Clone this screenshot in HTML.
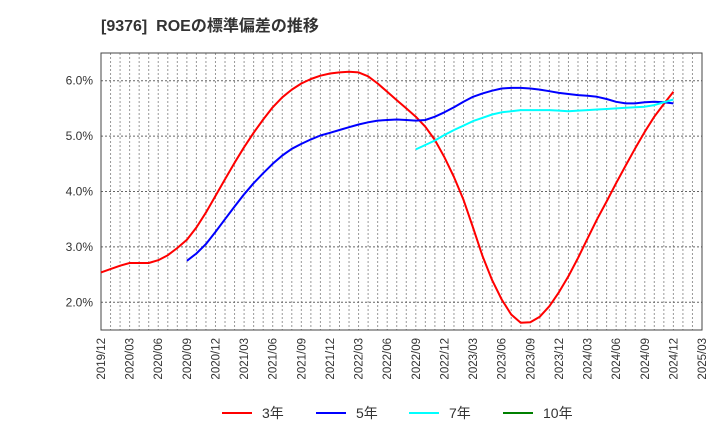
<!DOCTYPE html>
<html><head><meta charset="utf-8"><style>
body{margin:0;background:#fff;font-family:"Liberation Sans","Noto Sans CJK JP",sans-serif;}
</style></head><body>
<svg id="c" width="720" height="440" xmlns="http://www.w3.org/2000/svg" font-family="Liberation Sans, Noto Sans CJK JP, sans-serif">
<text x="101" y="31" font-size="16" font-weight="bold" fill="#333" style="white-space:pre">[9376]  ROEの標準偏差の推移</text>
<g id="grid"></g><g id="axes"></g><g id="series"></g>
<g font-size="14" fill="#333">
<g><line x1="222" y1="413" x2="252" y2="413" stroke="#ff0000" stroke-width="2"/><text x="262" y="418">3年</text></g>
<g><line x1="316" y1="413" x2="346" y2="413" stroke="#0000ff" stroke-width="2"/><text x="356" y="418">5年</text></g>
<g><line x1="409" y1="413" x2="439" y2="413" stroke="#00ffff" stroke-width="2"/><text x="449" y="418">7年</text></g>
<g><line x1="503" y1="413" x2="533" y2="413" stroke="#008000" stroke-width="2"/><text x="543" y="418">10年</text></g>
</g>
</svg>
<script>
const xLabels=["2019/12","2020/03","2020/06","2020/09","2020/12","2021/03","2021/06","2021/09","2021/12","2022/03","2022/06","2022/09","2022/12","2023/03","2023/06","2023/09","2023/12","2024/03","2024/06","2024/09","2024/12","2025/03"];
const yTicks=[2,3,4,5,6];
const yTickLabels=["2.0%","3.0%","4.0%","5.0%","6.0%"];
const red3=[2.54,2.6,2.66,2.71,2.71,2.71,2.76,2.85,2.98,3.13,3.35,3.62,3.92,4.22,4.52,4.8,5.06,5.3,5.52,5.7,5.84,5.95,6.03,6.09,6.13,6.15,6.16,6.15,6.08,5.95,5.8,5.65,5.5,5.35,5.17,4.93,4.62,4.26,3.85,3.35,2.83,2.4,2.05,1.78,1.63,1.64,1.74,1.93,2.18,2.47,2.8,3.15,3.5,3.82,4.15,4.47,4.78,5.08,5.35,5.58,5.8];
const blue5Start=9;
const blue5=[2.75,2.88,3.05,3.27,3.5,3.73,3.95,4.15,4.33,4.5,4.65,4.77,4.86,4.94,5.01,5.06,5.11,5.16,5.21,5.25,5.28,5.29,5.3,5.29,5.28,5.29,5.35,5.43,5.52,5.62,5.71,5.77,5.82,5.86,5.87,5.87,5.86,5.84,5.81,5.78,5.76,5.74,5.73,5.71,5.67,5.62,5.59,5.59,5.61,5.62,5.61,5.59];
const cyan7Start=33;
const cyan7=[4.76,4.84,4.92,5.02,5.11,5.19,5.27,5.33,5.39,5.43,5.45,5.47,5.47,5.47,5.47,5.46,5.45,5.46,5.47,5.48,5.49,5.5,5.51,5.52,5.53,5.56,5.61,5.66];
const green10=[];
const L=101,R=702,T=53,B=330,yMin=1.5,yMax=6.5,nMonths=63;
const NS="http://www.w3.org/2000/svg";
const xS=m=>L+(R-L)*m/nMonths;
const yS=v=>B-(B-T)*(v-yMin)/(yMax-yMin);
function mk(tag,attrs,parent){const e=document.createElementNS(NS,tag);for(const k in attrs)e.setAttribute(k,attrs[k]);parent.appendChild(e);return e;}
const grid=document.getElementById('grid'),axes=document.getElementById('axes'),series=document.getElementById('series');
for(let m=1;m<nMonths;m++){const l=mk('line',{x1:xS(m),x2:xS(m),y1:T,y2:B,stroke:'#999','stroke-dasharray':'2,2','stroke-width':1},grid);

}
yTicks.forEach((v,i)=>{const l=mk('line',{x1:L,x2:R,y1:yS(v),y2:yS(v),stroke:'#666','stroke-dasharray':'2,2','stroke-width':1},grid);


const t=mk('text',{x:L-8,y:yS(v)+4,'text-anchor':'end','font-size':12,fill:'#333'},axes);t.textContent=yTickLabels[i];

});
xLabels.forEach((s,i)=>{const x=xS(i*3);const t=mk('text',{x:0,y:0,'text-anchor':'end','font-size':11.5,fill:'#333',transform:`translate(${x+4},338) rotate(-90)`},axes);t.textContent=s;

});
const frame=mk('rect',{x:L,y:T,width:R-L,height:B-T,fill:'none',stroke:'#444','stroke-width':1},axes);


function line(vals,start,color,name){if(!vals.length)return;const pts=vals.map((v,i)=>xS(start+i).toFixed(1)+','+yS(v).toFixed(1)).join(' ');
const p=mk('polyline',{points:pts,fill:'none',stroke:color,'stroke-width':2,'stroke-linejoin':'round'},series);

}
line(red3,0,'#ff0000','series-3y');
line(blue5,blue5Start,'#0000ff','series-5y');
line(cyan7,cyan7Start,'#00ffff','series-7y');
line(green10,0,'#008000','series-10y');
</script>
</body></html>
